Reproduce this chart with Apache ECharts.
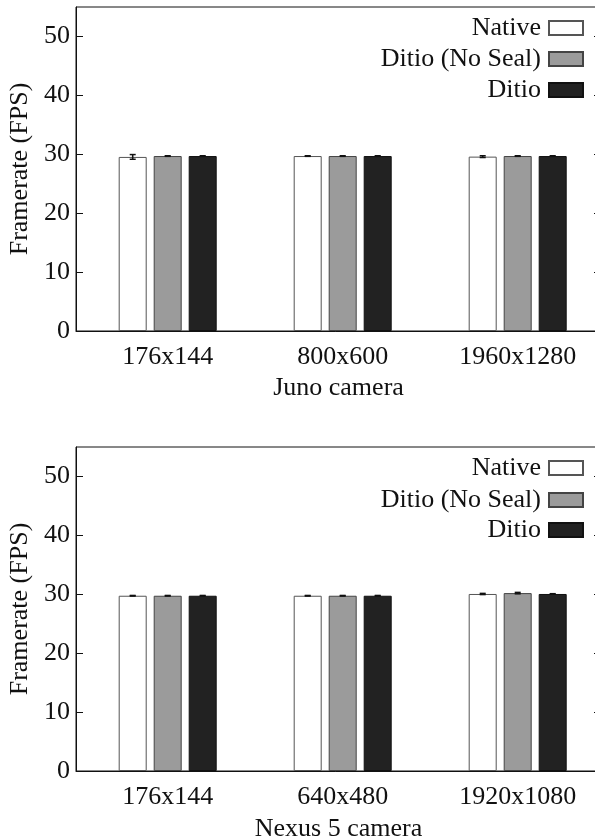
<!DOCTYPE html>
<html>
<head>
<meta charset="utf-8">
<script src="https://cdn.jsdelivr.net/npm/echarts@6/dist/echarts.min.js"></script>
<style>
  html, body { margin: 0; padding: 0; background: #fff; }
  #chart { width: 595px; height: 839px; }
</style>
</head>
<body>
<div id="chart"></div>
<script>
// data
const seriesNames = ['Native', 'Ditio (No Seal)', 'Ditio']
const junoLabels = ['176x144', '800x600', '1960x1280']
const nexusLabels = ['176x144', '640x480', '1920x1080']
const yTicks = [0, 10, 20, 30, 40, 50]

const junoNative = [29.55, 29.7, 29.6]
const junoNoSeal = [29.7, 29.7, 29.7]
const junoDitio = [29.7, 29.7, 29.7]
const junoNativeErr = [0.4, 0.05, 0.15]
const junoNoSealErr = [0.05, 0.05, 0.05]
const junoDitioErr = [0.05, 0.05, 0.05]

const nexusNative = [29.75, 29.75, 30.05]
const nexusNoSeal = [29.75, 29.75, 30.2]
const nexusDitio = [29.75, 29.75, 30.05]
const nexusNativeErr = [0.05, 0.05, 0.1]
const nexusNoSealErr = [0.05, 0.05, 0.12]
const nexusDitioErr = [0.05, 0.05, 0.05]

const FONT = "'Liberation Serif', 'Times New Roman', serif"
const BAR_W = 28
const BAR_GAP = 7
const fills = ['#ffffff', '#9b9b9b', '#222222']
const borders = ['#555555', '#444444', '#111111']

const chart = echarts.init(document.getElementById('chart'))

function grid(top) {
  return {
    left: 76, width: 525, top: top, height: 324, outerBoundsMode: 'none',
    show: true, borderColor: '#111', borderWidth: 1, backgroundColor: 'transparent'
  }
}

function xAxis(idx, labels, name, gap) {
  return {
    type: 'value', gridIndex: idx, min: -0.524, max: 2.476,
    axisLine: { show: true, onZero: false, lineStyle: { color: '#111', width: 1 } },
    axisTick: { show: false },
    splitLine: { show: false },
    axisLabel: {
      customValues: [0, 1, 2], formatter: v => labels[Math.round(v)],
      fontFamily: FONT, fontSize: 26, color: '#111', margin: 13
    },
    name: name, nameLocation: 'middle', nameGap: gap,
    nameTextStyle: { fontFamily: FONT, fontSize: 26, color: '#111' }
  }
}

function yAxes(idx) {
  return [{
    type: 'value', gridIndex: idx, min: 0, max: 55, position: 'left',
    axisLine: { show: true, onZero: false, lineStyle: { color: '#111', width: 1 } },
    axisTick: { show: true, inside: true, length: 7, customValues: yTicks, lineStyle: { color: '#111' } },
    splitLine: { show: false },
    axisLabel: { customValues: yTicks, fontFamily: FONT, fontSize: 26, color: '#111', margin: 6 },
    name: 'Framerate (FPS)', nameLocation: 'middle', nameGap: 42,
    nameTextStyle: { fontFamily: FONT, fontSize: 26, color: '#111' }
  }, {
    type: 'value', gridIndex: idx, min: 0, max: 55, position: 'right',
    axisLine: { show: true, onZero: false, lineStyle: { color: '#111', width: 1 } },
    axisTick: { show: true, inside: true, length: 7, customValues: yTicks, lineStyle: { color: '#111' } },
    axisLabel: { show: false },
    splitLine: { show: false }
  }]
}

function bars(idx, values) {
  return values.map((vals, i) => ({
    name: seriesNames[i], type: 'bar', xAxisIndex: idx, yAxisIndex: idx * 2,
    data: vals.map((v, k) => [k, v]),
    barWidth: BAR_W, barGap: (BAR_GAP / BAR_W * 100) + '%',
    itemStyle: { color: fills[i], borderColor: borders[i], borderWidth: 1 },
    emphasis: { disabled: true }
  }))
}

function errBars(idx, values, errs) {
  return values.map((vals, i) => ({
    type: 'custom', xAxisIndex: idx, yAxisIndex: idx * 2, z: 5,
    data: vals.map((v, k) => [k, v, errs[i][k]]),
    renderItem: (params, api) => {
      const off = (i - 1) * (BAR_W + BAR_GAP)
      const hi = api.coord([api.value(0), api.value(1) + api.value(2)])
      const lo = api.coord([api.value(0), api.value(1) - api.value(2)])
      const x = hi[0] + off
      const st = { stroke: '#111', lineWidth: 1.5 }
      return {
        type: 'group', children: [
          { type: 'line', shape: { x1: x, y1: hi[1], x2: x, y2: lo[1] }, style: st },
          { type: 'line', shape: { x1: x - 3, y1: hi[1], x2: x + 3, y2: hi[1] }, style: st },
          { type: 'line', shape: { x1: x - 3, y1: lo[1], x2: x + 3, y2: lo[1] }, style: st }
        ]
      }
    }
  }))
}

function legends(tops) {
  return seriesNames.map((n, i) => ({
    data: [n], right: 11, top: tops[i], padding: 0,
    itemWidth: 34, itemHeight: 14, align: 'right', selectedMode: false,
    icon: 'rect',
    textStyle: { fontFamily: FONT, fontSize: 26, color: '#111', lineHeight: 26, padding: [0, 3, 0, 0] }
  }))
}

chart.setOption({
  animation: false,
  grid: [grid(7), grid(447)],
  xAxis: [xAxis(0, junoLabels, 'Juno camera', 44), xAxis(1, nexusLabels, 'Nexus 5 camera', 45)],
  yAxis: [...yAxes(0), ...yAxes(1)],
  legend: [...legends([15, 46, 77]), ...legends([455, 487, 517])],
  series: [
    ...bars(0, [junoNative, junoNoSeal, junoDitio]),
    ...bars(1, [nexusNative, nexusNoSeal, nexusDitio]),
    ...errBars(0, [junoNative, junoNoSeal, junoDitio], [junoNativeErr, junoNoSealErr, junoDitioErr]),
    ...errBars(1, [nexusNative, nexusNoSeal, nexusDitio], [nexusNativeErr, nexusNoSealErr, nexusDitioErr])
  ]
})
</script>
</body>
</html>
